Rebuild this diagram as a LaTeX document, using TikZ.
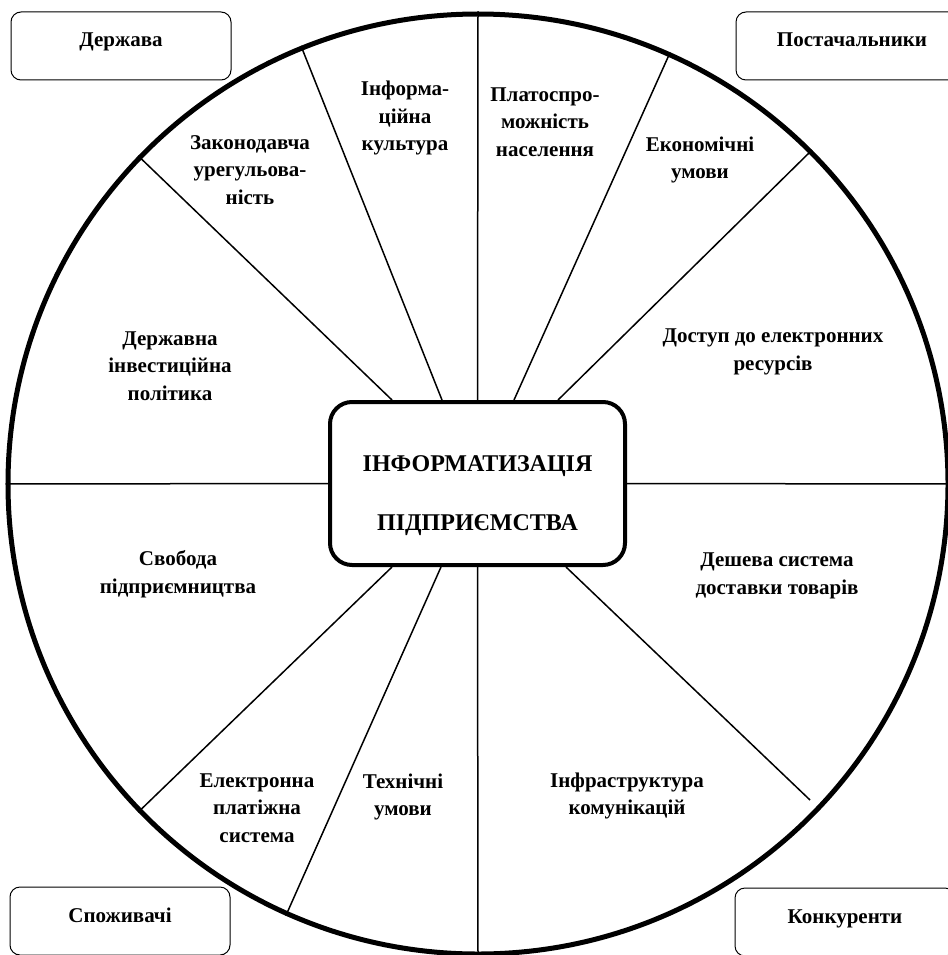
\documentclass[tikz,border=0pt]{standalone}
\usepackage{fontspec}
\setmainfont{Liberation Serif}
\usetikzlibrary{positioning}

\tikzstyle{ring} = [draw=black, circle, line width=5pt, minimum size=940pt, inner sep=0pt]
\tikzstyle{corebox} = [draw=black, fill=white, line width=4pt, rectangle,
    rounded corners=22pt, minimum width=295pt, minimum height=163pt, inner sep=0pt]
\tikzstyle{coretitle} = [font=\fontsize{24}{59}\selectfont\bfseries, align=center, inner sep=0pt]
\tikzstyle{sidebox} = [draw=black, fill=white, line width=1pt, rectangle, rounded corners=10pt,
    minimum width=220pt, minimum height=68pt, inner sep=0pt,
    font=\fontsize{21}{27.5}\selectfont\bfseries, text height=12pt, text depth=10pt]
\tikzstyle{factor} = [font=\fontsize{21}{27.5}\selectfont\bfseries, align=center, inner sep=0pt]
\tikzstyle{spoke} = [draw=black, line width=1.5pt]

\begin{document}
\begin{tikzpicture}[x=1pt,y=-1pt]
\useasboundingbox (0,0) rectangle (947,955);
\node [ring] (ring) at (478,484) {};
\node [corebox] (core) at (477.5,483.5) {};
\node [coretitle] (title) at (477.5,496) {ІНФОРМАТИЗАЦІЯ\\ПІДПРИЄМСТВА};
\coordinate (gap) at (810,800);

\draw [spoke] ([xshift=-85.5pt]core.north) -- (ring.136);
\draw [spoke] ([xshift=-35.5pt]core.north) -- (ring.112);
\draw [spoke] (core.north) -- (ring.90);
\draw [spoke] ([xshift=36.5pt]core.north) -- (ring.66);
\draw [spoke] ([xshift=80.5pt]core.north) -- (ring.45);
\draw [spoke] (core.east) -- (ring.0);
\draw [spoke] (core.west) -- (ring.180);
\draw [spoke] ([xshift=-85.5pt]core.south) -- (ring.224);
\draw [spoke] ([xshift=-36.5pt]core.south) -- (ring.246);
\draw [spoke] (core.south) -- (ring.270);
\draw [spoke] ([xshift=88.5pt]core.south) -- (gap);

\node [factor] (law) at (250,170) {Законодавча\\урегульова-\\ність};
\node [factor] (culture) at (405,118) {Інформа-\\ційна\\культура};
\node [factor] (solvency) at (545,122) {Платоспро-\\можність\\населення};
\node [factor] (economy) at (700,160) {Економічні\\умови};
\node [factor] (access) at (773,352) {Доступ до електронних\\ресурсів};
\node [factor] (invest) at (170,366) {Державна\\інвестиційна\\політика};
\node [factor] (freedom) at (178,574) {Свобода\\підприємництва};
\node [factor] (delivery) at (777,576) {Дешева система\\доставки товарів};
\node [factor] (payment) at (257,808) {Електронна\\платіжна\\система};
\node [factor] (tech) at (403,797) {Технічні\\умови};
\node [factor] (infra) at (627,796) {Інфраструктура\\комунікацій};

\node [sidebox] (state) at (121,46) {Держава};
\node [sidebox, minimum width=232pt] (suppliers) at (852,46) {Постачальники};
\node [sidebox] (consumers) at (120,921) {Споживачі};
\node [sidebox] (rivals) at (845,922) {Конкуренти};
\end{tikzpicture}
\end{document}
